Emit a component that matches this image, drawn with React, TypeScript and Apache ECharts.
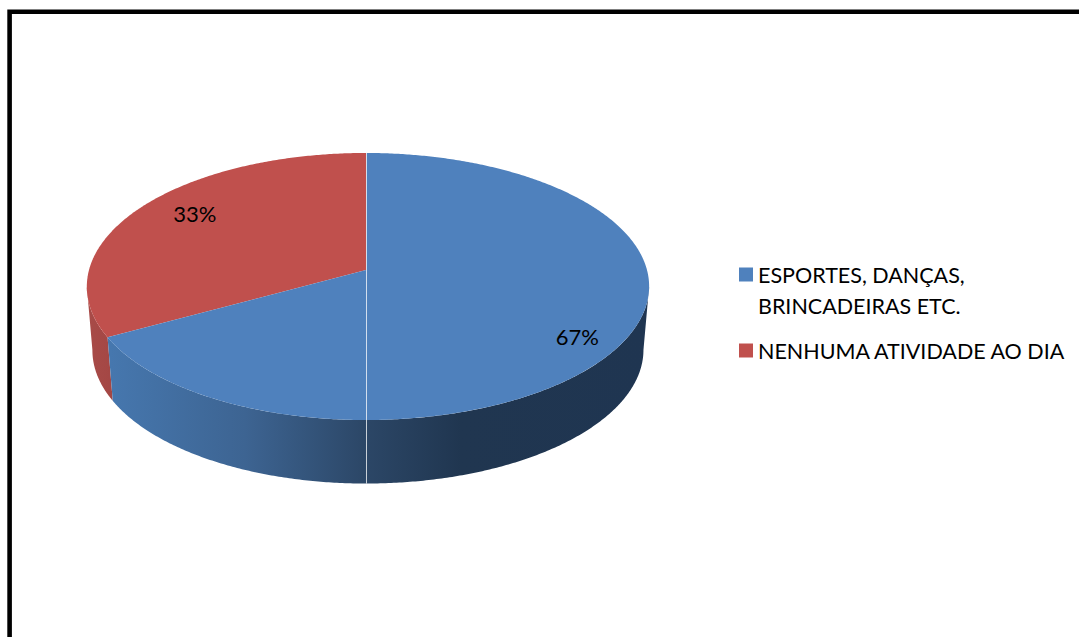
import React, { useEffect, useRef } from "react";
import * as echarts from "echarts";

// Share of daily physical activity among respondents
const sliceNames = ["ESPORTES, DANÇAS,\nBRINCADEIRAS ETC.", "NENHUMA ATIVIDADE AO DIA"];
const sliceValues = [67, 33];
const sliceColors = ["#4f81bd", "#c0504d"];

const FONT = "Lato, 'Open Sans', sans-serif";

// Perspective disc: apex position, half-axes, foreshortening and wall height
const APEX_X = 366;
const APEX_Y = 270;
const AXIS_X = 279;
const AXIS_Y = 131.5;
const PERSPECTIVE = 0.1236;
const BOW = 2;
const WALL_DEPTH = 63.5;
const WALL_SHRINK = 0.98;
// Angle where the rim turns away from the viewer, in degrees from the top
const RIM_TURN = (Math.acos(-PERSPECTIVE) * 180) / Math.PI;

const total = sliceValues.reduce((a, b) => a + b, 0);

// Angular span of slice i, clockwise from the top; the first slice starts at 0
function sliceSpan(i: number): [number, number] {
  const before = sliceValues.slice(0, i).reduce((a, b) => a + b, 0);
  return [(before / total) * 360, ((before + sliceValues[i]) / total) * 360];
}

function project(deg: number, f = 1): [number, number] {
  const t = (deg * Math.PI) / 180;
  const u = Math.sin(t) * f;
  const v = Math.cos(t) * f;
  const w = 1 + PERSPECTIVE * v;
  return [APEX_X + (AXIS_X * u) / w + BOW * u * u, APEX_Y - (AXIS_Y * v) / w];
}

function lower(p: [number, number]): [number, number] {
  return [APEX_X + (p[0] - APEX_X) * WALL_SHRINK, p[1] + WALL_DEPTH];
}

function arc(from: number, to: number): [number, number][] {
  const steps = Math.max(2, Math.ceil(Math.abs(to - from) / 0.5));
  const pts: [number, number][] = [];
  for (let k = 0; k <= steps; k++) pts.push(project(from + ((to - from) * k) / steps));
  return pts;
}

const wallFills: any[] = [
  {
    type: "linear", x: 110, y: 0, x2: 650, y2: 0, global: true,
    colorStops: [
      { offset: 0, color: "#4677ae" },
      { offset: 0.25, color: "#3d6492" },
      { offset: 0.47, color: "#2c4767" },
      { offset: 0.65, color: "#203650" },
      { offset: 1, color: "#1f3551" },
    ],
  },
  {
    type: "linear", x: 88, y: 0, x2: 115, y2: 0, global: true,
    colorStops: [
      { offset: 0, color: "#a84b48" },
      { offset: 1, color: "#a34644" },
    ],
  },
];

// Label anchor per slice: radial fraction and vertical nudge
const labelAnchors = [
  { f: 0.83, dy: 8 },
  { f: 0.75, dy: -9 },
];

function makeRenderItem(i: number) {
  return (_params: any, api: any) => {
    const value = api.value(0);
    const [a0, a1] = sliceSpan(i);
    const top = arc(a0, a1);
    const children: any[] = [];

    // Visible outer wall: the part of the span facing the viewer
    const wFrom = Math.max(a0, RIM_TURN);
    const wTo = Math.min(a1, 360 - RIM_TURN);
    if (wTo > wFrom) {
      const rim = arc(wFrom, wTo);
      const points = rim.concat(rim.slice().reverse().map(lower));
      children.push({
        type: "polygon",
        shape: { points },
        style: { fill: wallFills[i], stroke: "none" },
      });
    }

    // Top face
    children.push({
      type: "polygon",
      shape: { points: [[APEX_X, APEX_Y] as [number, number]].concat(top) },
      style: { fill: sliceColors[i], stroke: "none" },
    });

    // Light seam running over the disc and down the front of the wall
    if (i === 0) {
      const back = project(0);
      const front = lower(project(180));
      children.push({
        type: "line",
        shape: { x1: APEX_X + 0.5, y1: back[1], x2: APEX_X + 0.5, y2: front[1] },
        style: { stroke: "rgba(255,255,255,0.75)", lineWidth: 1 },
      });
    }

    // Percentage label at the middle of the slice
    const anchor = labelAnchors[i];
    const mid = project((a0 + a1) / 2, anchor.f);
    children.push({
      type: "text",
      x: mid[0],
      y: mid[1] + anchor.dy,
      style: {
        text: `${Math.round((value / total) * 100)}%`,
        fill: "#000",
        font: `22px ${FONT}`,
        align: "center",
        verticalAlign: "middle",
      },
    });

    return { type: "group", children };
  };
}

const legendBase = {
  orient: "vertical" as const,
  left: 739,
  icon: "rect",
  itemWidth: 14,
  itemHeight: 14,
  itemGap: 0,
  padding: 0,
  selectedMode: false,
  textStyle: { color: "#000", fontFamily: FONT, fontSize: 21.5, lineHeight: 31, padding: [0, 0, 0, 0] },
};

export default function App() {
  const ref = useRef<HTMLDivElement>(null);

  useEffect(() => {
    if (!ref.current) return;
    const chart = echarts.init(ref.current, null, { renderer: "svg" });
    chart.setOption({
      animation: false,
      backgroundColor: "#fff",
      legend: [
        {
          ...legendBase,
          top: 228,
          data: [sliceNames[0]],
          // The swatch lines up with the first line of the wrapped name
          formatter: (name: string) => `\n${name}`,
        },
        { ...legendBase, top: 335, data: [sliceNames[1]] },
      ],
      graphic: [
        {
          type: "rect",
          silent: true,
          shape: { x: 9.6, y: 11.8, width: 1300, height: 900 },
          style: { fill: "none", stroke: "#000", lineWidth: 4.6 },
        },
      ],
      series: sliceNames.map((name, i) => ({
        type: "custom",
        name,
        coordinateSystem: "none",
        z: i === 0 ? 3 : 2,
        itemStyle: { color: sliceColors[i] },
        data: [[sliceValues[i]]],
        renderItem: makeRenderItem(i),
      })),
    });
    return () => chart.dispose();
  }, []);

  return (
    <div
      ref={ref}
      style={{ position: "fixed", left: 0, top: 0, width: 1079, height: 637 }}
    />
  );
}
